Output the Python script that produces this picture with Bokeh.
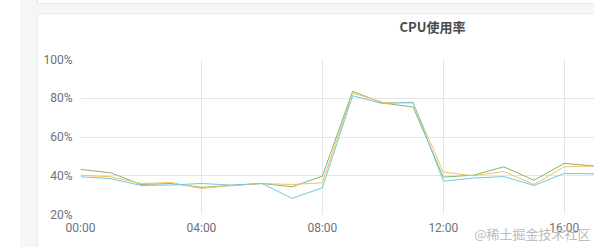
from bokeh.plotting import figure
from bokeh.models import Range1d, FixedTicker, Title, CustomJSTickFormatter
from bokeh.embed import file_html
from bokeh.resources import INLINE

hours = list(range(18))
series_green = [43.3, 41.5, 35.5, 36.0, 34.0, 35.0, 36.0, 34.3, 39.8, 83.6, 77.5, 75.5, 39.3, 40.3, 44.6, 37.7, 46.4, 45.0]
series_yellow = [40.2, 39.5, 36.0, 36.5, 33.4, 35.0, 36.0, 35.5, 36.4, 82.7, 77.9, 77.5, 41.9, 40.0, 42.2, 35.5, 44.6, 45.0]
series_cyan = [39.5, 38.5, 35.0, 35.2, 36.0, 35.2, 36.0, 28.3, 33.8, 81.3, 77.2, 78.0, 37.2, 38.8, 39.6, 35.0, 41.2, 41.0]
y_ticks = [20, 40, 60, 80, 100]
x_ticks = [0, 4, 8, 12, 16]
title_text = "CPU使用率"
watermark = "@稀土掘金技术社区"

W, H = 594, 247

p = figure(width=W, height=H, output_backend="svg", toolbar_location=None,
           x_range=Range1d(0, 17), y_range=Range1d(20, 100),
           min_border_left=80, min_border_right=0, min_border_top=59, min_border_bottom=33)
p.outline_line_color = None
p.background_fill_color = "white"
p.border_fill_color = None

# page decoration (gray gutter and card borders) painted behind the transparent canvas border
p.styles = {
    "background": (
        "linear-gradient(#fff,#fff) 38px 14px / 100% 100% no-repeat,"
        "linear-gradient(#e8eaee,#e8eaee) 37px 13px / 100% 100% no-repeat,"
        "linear-gradient(#fff,#fff) 38px 0px / 100% 3px no-repeat,"
        "linear-gradient(#e8eaee,#e8eaee) 37px 0px / 100% 4px no-repeat,"
        "linear-gradient(#f5f6f8,#f5f6f8) 20px 0px / 100% 100% no-repeat,"
        "#ffffff"
    )
}

for ax in (p.xaxis, p.yaxis):
    ax.axis_line_color = None
    ax.major_tick_line_color = None
    ax.minor_tick_line_color = None
    ax.major_tick_out = 0
    ax.major_tick_in = 0
    ax.major_label_text_font = "Roboto"
    ax.major_label_text_font_size = "12px"
    ax.major_label_text_color = "#6e7079"
p.yaxis.ticker = FixedTicker(ticks=y_ticks)
p.yaxis.formatter = CustomJSTickFormatter(code="return tick + '%';")
p.xaxis.ticker = FixedTicker(ticks=x_ticks)
p.xaxis.formatter = CustomJSTickFormatter(code="return (tick < 10 ? '0' : '') + tick + ':00';")
p.yaxis.major_label_standoff = 8
p.xaxis.major_label_standoff = 6
p.xgrid.ticker = FixedTicker(ticks=x_ticks)
p.ygrid.ticker = FixedTicker(ticks=y_ticks)
p.xgrid.grid_line_color = "#e3e5ea"
p.ygrid.grid_line_color = "#e3e5ea"

p.line(hours, series_green, line_color="#86b46c", line_width=1)
p.line(hours, series_yellow, line_color="#f2c35a", line_width=1)
p.line(hours, series_cyan, line_color="#73c8de", line_width=1)

# spacer between frame and title, then the title itself
p.add_layout(Title(text=" ", text_font_size="1px", standoff=21), "above")
p.add_layout(Title(text=title_text, align="left", offset=319, standoff=0,
                   text_font="Noto Sans CJK SC", text_font_size="13px", text_font_style="bold",
                   text_color="#4a4a4a"), "above")
p.add_layout(Title(text=watermark, align="right", offset=4, standoff=-28, vertical_align="top",
                   text_font="Noto Sans CJK SC", text_font_size="13px", text_font_style="normal",
                   text_color="#bcbcbc"), "below")

open("out.html", "w").write(file_html(p, INLINE))
